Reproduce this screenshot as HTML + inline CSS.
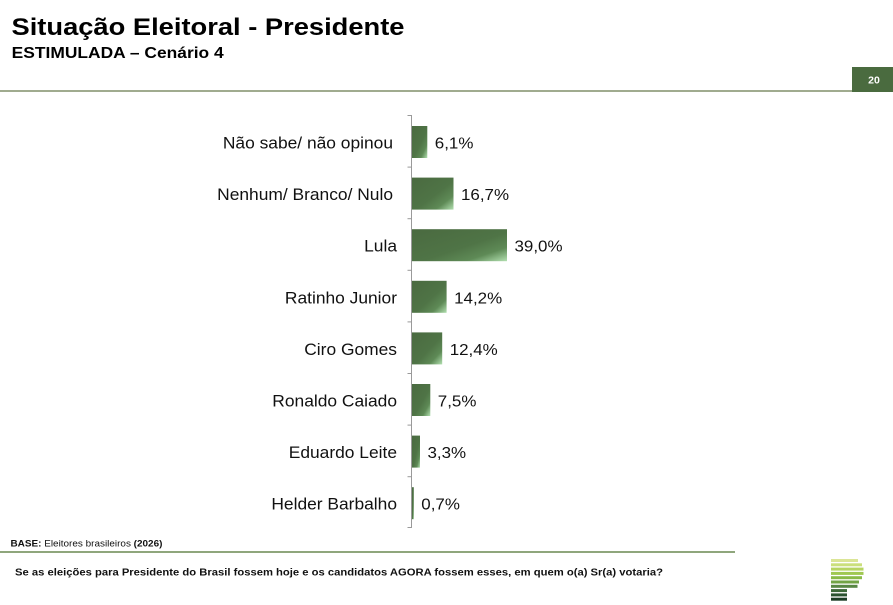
<!DOCTYPE html>
<html><head><meta charset="utf-8"><style>
html,body{margin:0;padding:0;background:#fff;}
svg{display:block;font-family:"Liberation Sans",Arial,sans-serif;}
</style></head><body>
<svg width="893" height="605" viewBox="0 0 893 605" xmlns="http://www.w3.org/2000/svg">
<defs>
<linearGradient id="g" x1="0" y1="0" x2="1" y2="1">
<stop offset="0" stop-color="#4a6a40"/>
<stop offset="0.55" stop-color="#4f7446"/>
<stop offset="0.78" stop-color="#5e8a56"/>
<stop offset="1" stop-color="#b2e0b0"/>
</linearGradient>
</defs>
<rect width="893" height="605" fill="#fff"/>
<text x="11.5" y="35" font-size="24.5" font-weight="bold" fill="#000" textLength="393" lengthAdjust="spacingAndGlyphs">Situação Eleitoral - Presidente</text>
<text x="11.7" y="58" font-size="15.5" font-weight="bold" fill="#000" textLength="212" lengthAdjust="spacingAndGlyphs">ESTIMULADA – Cenário 4</text>
<rect x="0" y="90" width="852" height="2" fill="#a0ab8f"/>
<rect x="852" y="67" width="41" height="25" fill="#4a6b3f"/>
<text x="874" y="83.5" font-size="10.5" font-weight="bold" fill="#fff" text-anchor="middle">20</text>

<!-- axis -->
<g stroke="#9a9a9a" stroke-width="1">
<line x1="411.5" y1="115" x2="411.5" y2="528"/>
<line x1="407.5" y1="115.5" x2="411.5" y2="115.5"/>
<line x1="407.5" y1="167.1" x2="411.5" y2="167.1"/>
<line x1="407.5" y1="218.7" x2="411.5" y2="218.7"/>
<line x1="407.5" y1="270.3" x2="411.5" y2="270.3"/>
<line x1="407.5" y1="321.9" x2="411.5" y2="321.9"/>
<line x1="407.5" y1="373.5" x2="411.5" y2="373.5"/>
<line x1="407.5" y1="425.1" x2="411.5" y2="425.1"/>
<line x1="407.5" y1="476.7" x2="411.5" y2="476.7"/>
<line x1="407.5" y1="527.5" x2="411.5" y2="527.5"/>
</g>

<!-- bars -->
<g fill="url(#g)">
<rect x="412" y="126" width="15.3" height="32"/>
<rect x="412" y="177.6" width="41.5" height="32"/>
<rect x="412" y="229.2" width="95" height="32"/>
<rect x="412" y="280.8" width="34.6" height="32"/>
<rect x="412" y="332.4" width="30.2" height="32"/>
<rect x="412" y="384" width="18.3" height="32"/>
<rect x="412" y="435.6" width="8.0" height="32"/>
<rect x="412" y="487.2" width="1.8" height="32"/>
</g>

<!-- category labels -->
<g font-size="16.5" fill="#111" text-anchor="end">
<text transform="translate(393,148.5) scale(1.055,1)">Não sabe/ não opinou</text>
<text transform="translate(393,200.1) scale(1.055,1)">Nenhum/ Branco/ Nulo</text>
<text transform="translate(397,251.7) scale(1.055,1)">Lula</text>
<text transform="translate(397,303.3) scale(1.055,1)">Ratinho Junior</text>
<text transform="translate(397,354.9) scale(1.055,1)">Ciro Gomes</text>
<text transform="translate(397,406.5) scale(1.055,1)">Ronaldo Caiado</text>
<text transform="translate(397,458.1) scale(1.055,1)">Eduardo Leite</text>
<text transform="translate(397,509.7) scale(1.055,1)">Helder Barbalho</text>
</g>

<!-- value labels -->
<g font-size="16" fill="#111">
<text transform="translate(434.8,148.5) scale(1.06,1)">6,1%</text>
<text transform="translate(461,200.1) scale(1.06,1)">16,7%</text>
<text transform="translate(514.5,251.7) scale(1.06,1)">39,0%</text>
<text transform="translate(454.1,303.3) scale(1.06,1)">14,2%</text>
<text transform="translate(449.7,354.9) scale(1.06,1)">12,4%</text>
<text transform="translate(437.8,406.5) scale(1.06,1)">7,5%</text>
<text transform="translate(427.5,458.1) scale(1.06,1)">3,3%</text>
<text transform="translate(421.3,509.7) scale(1.06,1)">0,7%</text>
</g>

<!-- footer -->
<text transform="translate(10.5,546.5) scale(1.047,1)" font-size="9.5" fill="#111"><tspan font-weight="bold">BASE:</tspan> Eleitores brasileiros <tspan font-weight="bold">(2026)</tspan></text>
<rect x="0" y="551" width="735" height="2" fill="#8fa67c"/>
<text x="15" y="575.5" font-size="10" font-weight="bold" fill="#111" textLength="648" lengthAdjust="spacingAndGlyphs">Se as eleições para Presidente do Brasil fossem hoje e os candidatos AGORA fossem esses, em quem o(a) Sr(a) votaria?</text>

<!-- logo -->
<g>
<rect x="831" y="559" width="27" height="3" fill="#dbe596"/>
<rect x="831" y="563.3" width="31" height="3" fill="#cbdf7c"/>
<rect x="831" y="567.6" width="32.5" height="3" fill="#b6d462"/>
<rect x="831" y="571.9" width="32.5" height="3" fill="#a0c852"/>
<rect x="831" y="576.2" width="31" height="3" fill="#8aba48"/>
<rect x="831" y="580.5" width="28" height="3" fill="#72a445"/>
<rect x="831" y="584.8" width="26.5" height="3" fill="#588744"/>
<rect x="831" y="589.1" width="16" height="3" fill="#3c6838"/>
<rect x="831" y="593.4" width="16" height="3" fill="#2a522f"/>
<rect x="831" y="597.7" width="16" height="3" fill="#1b3c24"/>
</g>
</svg>
</body></html>
